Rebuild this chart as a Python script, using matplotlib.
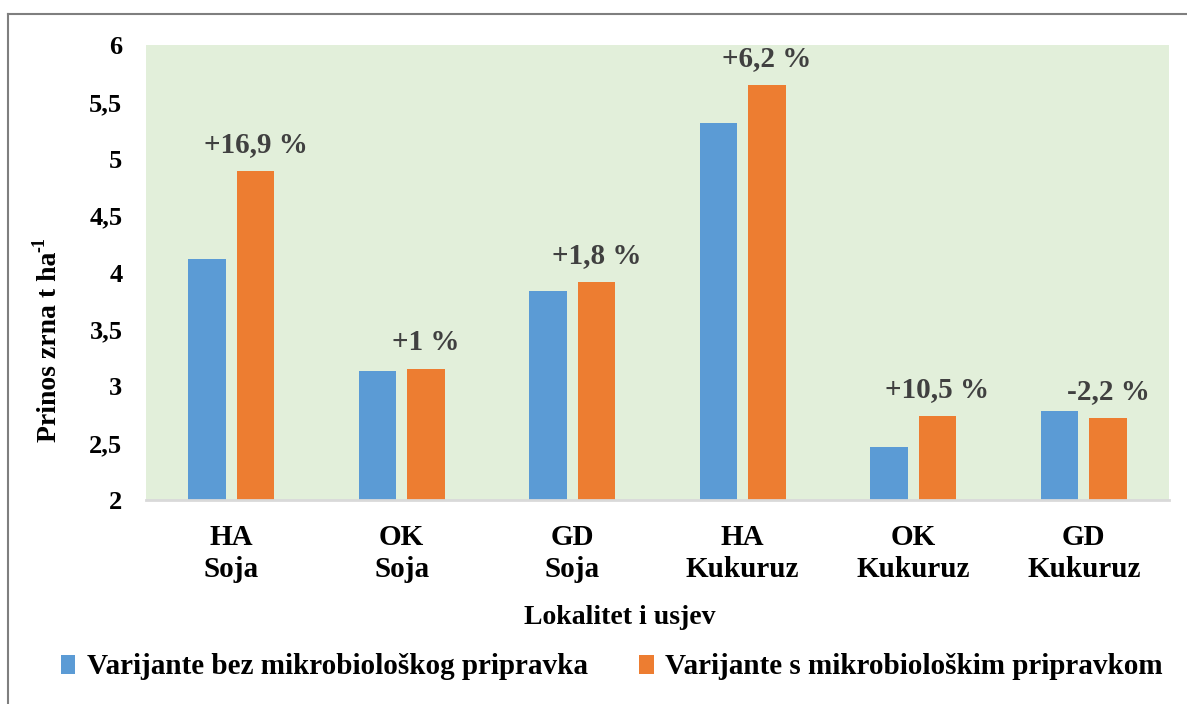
import matplotlib
matplotlib.use("Agg")
import matplotlib.pyplot as plt
import numpy as np
from matplotlib.lines import Line2D

plt.rcParams['font.family'] = ['Liberation Serif', 'DejaVu Serif']
plt.rcParams['font.weight'] = 'bold'

categories = ["HA\nSoja", "OK\nSoja", "GD\nSoja", "HA\nKukuruz", "OK\nKukuruz", "GD\nKukuruz"]
bez = [4.12, 3.13, 3.84, 5.31, 2.47, 2.78]
s_prip = [4.89, 3.15, 3.92, 5.65, 2.74, 2.72]
labels = ["+16,9 %", "+1 %", "+1,8 %", "+6,2 %", "+10,5 %", "-2,2 %"]
yticks = [2, 2.5, 3, 3.5, 4, 4.5, 5, 5.5, 6]
series_names = ["Varijante bez mikrobiološkog pripravka", "Varijante s mikrobiološkim pripravkom"]

W, H = 1187, 704
fig = plt.figure(figsize=(W / 100, H / 100), dpi=100)
ax = fig.add_axes([146 / W, 1 - 500 / H, (1169 - 146) / W, (500 - 45) / H])
ax.set_facecolor('#E2EFDA')

blue = '#5B9BD5'
orange = '#ED7D31'
x = np.arange(len(categories))
bw = 0.222
off = 0.142
ax.bar(x - off, np.array(bez) - 2, bw, bottom=2, color=blue, label=series_names[0])
ax.bar(x + off, np.array(s_prip) - 2, bw, bottom=2, color=orange, label=series_names[1])

for i, (v, t) in enumerate(zip(s_prip, labels)):
    ax.annotate(t, (x[i] + off, v), xytext=(0, 19), textcoords='offset points',
                ha='center', va='center', fontsize=21, fontweight='bold', color='#404040')

ax.set_xlim(-0.5, len(categories) - 0.5)
ax.set_ylim(2, 6)
ax.set_yticks(yticks)
ax.set_yticklabels([("%g" % v).replace('.', ',') for v in yticks], fontsize=19, fontweight='bold')
ax.set_xticks(x)
ax.set_xticklabels(categories, fontsize=21, fontweight='bold', linespacing=1.25)
ax.tick_params(axis='y', length=0, pad=17)
ax.tick_params(axis='x', length=0, pad=17)
for s in ['top', 'right', 'left']:
    ax.spines[s].set_visible(False)
ax.spines['bottom'].set_color('#D9D9D9')
ax.spines['bottom'].set_linewidth(2)

ylab = fig.text(50 / W, 1 - 347 / H, "Prinos zrna t ha", rotation=90, ha='center', va='center',
                fontsize=20, fontweight='bold')
ax.annotate("-1", xy=(0.5, 1.0), xycoords=ylab, xytext=(-7, 0), textcoords='offset points',
            rotation=90, ha='center', va='bottom', fontsize=13, fontweight='bold')
fig.text(620 / W, 1 - 618 / H, "Lokalitet i usjev", ha='center', va='center',
         fontsize=20, fontweight='bold')

leg = ax.legend(loc='center', bbox_to_anchor=(612 / W, 1 - 667 / H), bbox_transform=fig.transFigure,
                ncol=2, frameon=False, handlelength=0.5, handleheight=0.65,
                handletextpad=0.4, columnspacing=1.75, prop={'weight': 'bold', 'size': 21})

fig.add_artist(Line2D([8 / W, 8 / W], [0, 1 - 14 / H], transform=fig.transFigure, color='#7F7F7F', lw=1.5))
fig.add_artist(Line2D([8 / W, 1], [1 - 14 / H, 1 - 14 / H], transform=fig.transFigure, color='#7F7F7F', lw=1.5))

fig.savefig('out.png', dpi=100)
